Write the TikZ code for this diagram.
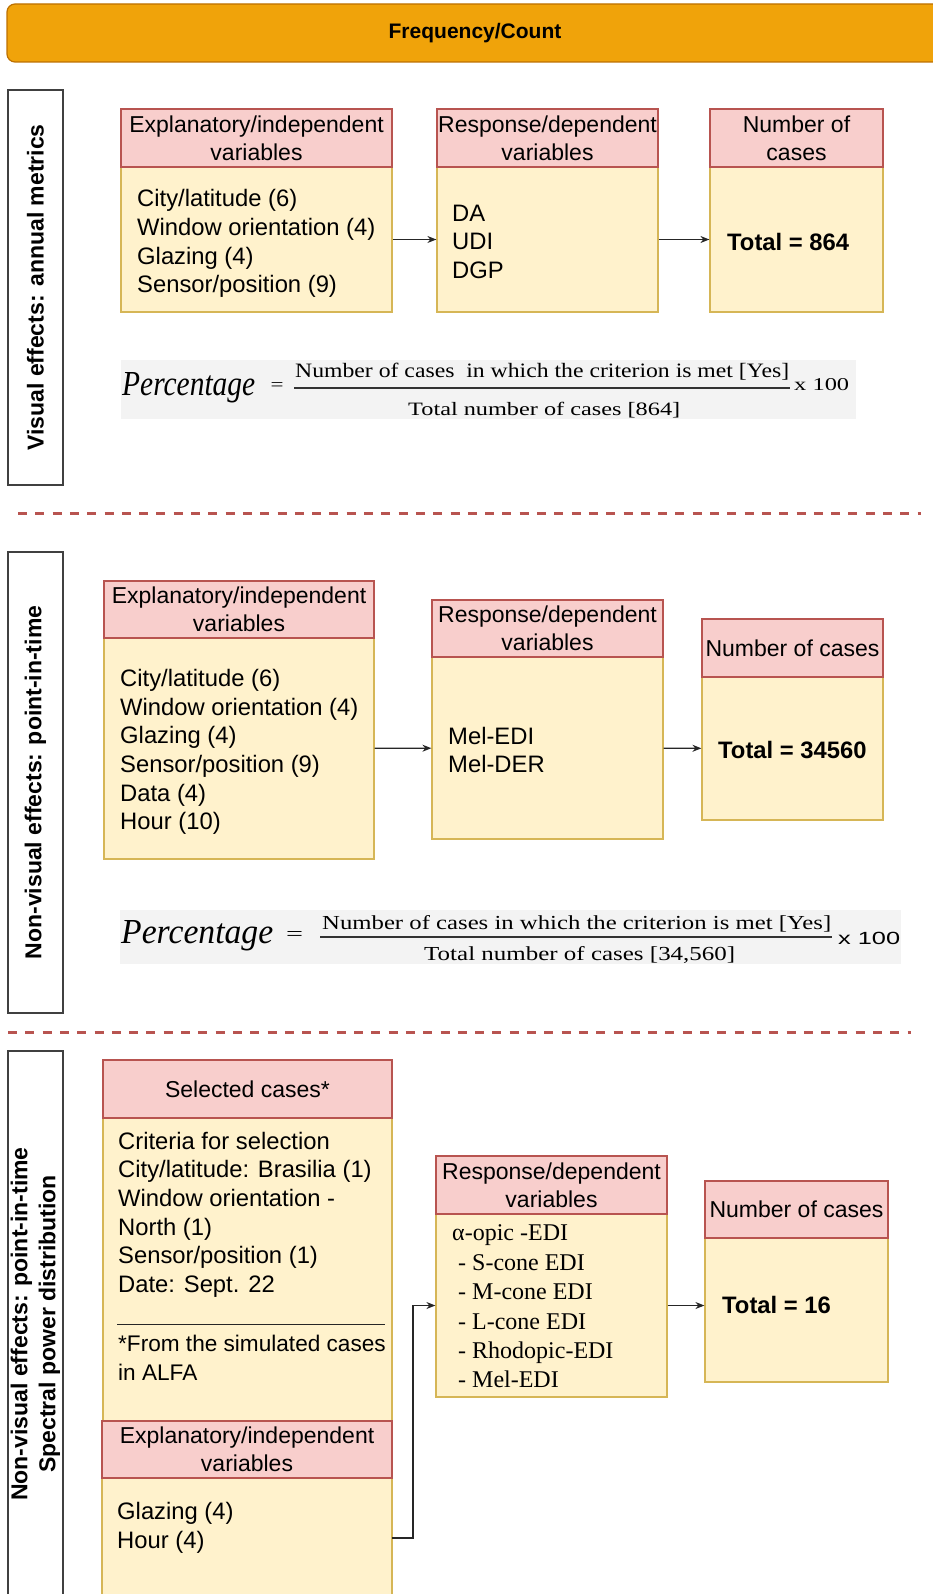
\documentclass[tikz,border=0pt]{standalone}
\usepackage{graphicx}
\usepackage{fontspec}
\setsansfont{Liberation Sans}
\newfontfamily\timesfont{Liberation Serif}
\renewcommand{\familydefault}{\sfdefault}
\usetikzlibrary{arrows.meta}
\definecolor{hdrfill}{HTML}{F8CECC}
\definecolor{hdrdraw}{HTML}{B85450}
\definecolor{bodyfill}{HTML}{FFF2CC}
\definecolor{bodydraw}{HTML}{D6B656}
\definecolor{banfill}{HTML}{F0A30A}
\definecolor{bandraw}{HTML}{BD7000}
\definecolor{sepred}{HTML}{B85450}
\definecolor{formbg}{HTML}{F3F3F3}
\newcommand\fitbox[3]{\resizebox{#1pt}{#2pt}{#3}}
\newcommand\hdrfont{\sffamily\fontsize{23}{28}\selectfont}
\newcommand\bodyfnt{\sffamily\fontsize{23.8}{28.7}\selectfont}
\begin{document}
\begin{tikzpicture}[x=1pt,y=-1pt,
  banner/.style={draw=bandraw, fill=banfill, line width=1.2pt, rounded corners=8pt, inner sep=0pt, font=\sffamily\bfseries\fontsize{21}{24}\selectfont},
  side/.style={draw=black!75, fill=white, line width=1.2pt, inner sep=0pt, rotate=90, align=center, font=\sffamily\bfseries\fontsize{23}{28}\selectfont},
  hdr/.style={draw=hdrdraw, fill=hdrfill, line width=1.2pt, inner sep=0pt, align=center, font=\hdrfont},
  bodybox/.style={draw=bodydraw, fill=bodyfill, line width=1.2pt, inner sep=0pt},
  btxt/.style={anchor=west, inner sep=0pt, align=left, font=\bodyfnt},
  ttxt/.style={anchor=west, inner sep=0pt, align=left, font=\sffamily\bfseries\fontsize{23.8}{28.7}\selectfont},
  arr/.style={draw=black!85, line width=1.2pt, -{Stealth[length=9pt,width=7pt]}},
  sepline/.style={draw=sepred, line width=3pt, dash pattern=on 9pt off 8.3pt},
  fbg/.style={fill=formbg, draw=none, inner sep=0pt},
  ftxt/.style={inner sep=0pt, font=\timesfont\fontsize{20}{20}\selectfont},
  fbar/.style={draw=black!80, line width=1.3pt}
]
\useasboundingbox (0,0) rectangle (933,1594);

% banner
\node[banner, minimum width=936pt, minimum height=58pt] (ban) at (475,33) {Frequency/Count};

% ---------------- section 1
\node[side, minimum width=395pt, minimum height=55pt] (s1) at (35.5,287.5) {Visual effects: annual metrics};

\node[bodybox, minimum width=271pt, minimum height=145pt] (e1b) at (256.5,239.5) {};
\node[hdr, minimum width=271pt, minimum height=58pt] (e1h) at (256.5,138) {Explanatory/independent\\variables};
\node[bodybox, minimum width=221pt, minimum height=145pt] (r1b) at (547.5,239.5) {};
\node[hdr, minimum width=221pt, minimum height=58pt] (r1h) at (547.5,138) {Response/dependent\\variables};
\node[bodybox, minimum width=173pt, minimum height=145pt] (n1b) at (796.5,239.5) {};
\node[hdr, minimum width=173pt, minimum height=58pt] (n1h) at (796.5,138) {Number of\\cases};

\node[btxt] (e1t) at (137,243.5) {City/latitude (6)\\Window orientation (4)\\Glazing (4)\\Sensor/position (9)};
\node[btxt] (r1t) at (452,241.7) {DA\\UDI\\DGP};
\node[ttxt] (n1t) at (727,242) {Total = 864};

\draw[arr] (e1b) -- (r1b);
\draw[arr] (r1b) -- (n1b);

% formula 1
\node[fbg, minimum width=735pt, minimum height=59pt] (f1bg) at (488.5,389.5) {};
\node[ftxt, anchor=base west] (f1p) at (122,395) {\fitbox{133}{23}{\itshape Percentage}};
\node[ftxt] (f1eq) at (277,386) {\fitbox{13}{8}{=}};
\node[ftxt, anchor=base west] (f1n) at (295,377.7) {\fitbox{494}{14.4}{Number of cases\ \ in which the criterion is met [Yes]}};
\draw[fbar] (294,388) -- (790,388);
\node[ftxt, anchor=base west] (f1d) at (408,415) {\fitbox{272}{13.3}{Total number of cases [864]}};
\node[ftxt, anchor=base west] (f1x) at (794,390) {\fitbox{55}{12}{x 100}};

\draw[sepline] (18,513) -- (921,513);

% ---------------- section 2
\node[side, minimum width=461pt, minimum height=55pt] (s2) at (35.5,782.5) {Non-visual effects: point-in-time};

\node[bodybox, minimum width=270pt, minimum height=221pt] (e2b) at (239,748.5) {};
\node[hdr, minimum width=270pt, minimum height=57pt] (e2h) at (239,609.5) {Explanatory/independent\\variables};
\node[bodybox, minimum width=231pt, minimum height=182pt] (r2b) at (547.5,748) {};
\node[hdr, minimum width=231pt, minimum height=57pt] (r2h) at (547.5,628.5) {Response/dependent\\variables};
\node[bodybox, minimum width=181pt, minimum height=143pt] (n2b) at (792.5,748.5) {};
\node[hdr, minimum width=181pt, minimum height=58pt] (n2h) at (792.5,648) {Number of cases};

\node[btxt] (e2t) at (120,752) {City/latitude (6)\\Window orientation (4)\\Glazing (4)\\Sensor/position (9)\\Data (4)\\Hour (10)};
\node[btxt] (r2t) at (448,750) {Mel-EDI\\Mel-DER};
\node[ttxt] (n2t) at (718,750) {Total = 34560};

\draw[arr] (e2b) -- (r2b);
\draw[arr] (r2b) -- (n2b);

% formula 2
\node[fbg, minimum width=781pt, minimum height=54pt] (f2bg) at (510.5,937) {};
\node[ftxt, anchor=base west] (f2p) at (121,943) {\fitbox{152}{23}{\itshape Percentage}};
\node[ftxt] (f2eq) at (294.5,936) {\fitbox{17}{9}{=}};
\node[ftxt, anchor=base west] (f2n) at (322,929) {\fitbox{509}{14}{Number of cases in which the criterion is met [Yes]}};
\draw[fbar] (320,937) -- (832,937);
\node[ftxt, anchor=base west] (f2d) at (424,960.7) {\fitbox{311}{14}{Total number of cases [34,560]}};
\node[ftxt, anchor=base west] (f2x) at (838,944) {\fitbox{62}{12.3}{\sffamily x 100}};

\draw[sepline] (8,1032) -- (911,1032);

% ---------------- section 3
\node[side, minimum width=546pt, minimum height=55pt] (s3) at (35.5,1324) {Non-visual effects: point-in-time\\Spectral power distribution};

\node[bodybox, minimum width=289pt, minimum height=303pt] (sb) at (247.5,1269.5) {};
\node[hdr, minimum width=289pt, minimum height=58pt] (sh) at (247.5,1089) {Selected cases*};
\node[btxt] (st) at (118,1214.6) {Criteria for selection\\City/latitude: Brasilia (1)\\Window orientation -\\North (1)\\Sensor/position (1)\\Date: Sept. 22};
\draw[draw=black!85, line width=1pt] (117,1324.5) -- (385,1324.5);
\node[btxt, font=\sffamily\fontsize{22.6}{29}\selectfont] (ft) at (118,1357.5) {*From the simulated cases\\in ALFA};

\node[bodybox, minimum width=290pt, minimum height=132pt] (eb3) at (247,1544) {};
\node[hdr, minimum width=290pt, minimum height=57pt] (eh3) at (247,1449.5) {Explanatory/independent\\variables};
\node[btxt, font=\sffamily\fontsize{23.8}{28.5}\selectfont] (e3t) at (117,1528) {Glazing (4)\\Hour (4)};

\node[bodybox, minimum width=231pt, minimum height=183pt] (rb3) at (551.5,1305.5) {};
\node[hdr, minimum width=231pt, minimum height=58pt] (rh3) at (551.5,1185) {Response/dependent\\variables};
\node[btxt, font=\timesfont\fontsize{24}{29.4}\selectfont] (r3t) at (452,1306.5) {α-opic -EDI\\\hspace*{6pt}- S-cone EDI\\\hspace*{6pt}- M-cone EDI\\\hspace*{6pt}- L-cone EDI\\\hspace*{6pt}- Rhodopic-EDI\\\hspace*{6pt}- Mel-EDI};

\node[bodybox, minimum width=183pt, minimum height=144pt] (nb3) at (796.5,1310) {};
\node[hdr, minimum width=183pt, minimum height=57pt] (nh3) at (796.5,1209.5) {Number of cases};
\node[ttxt] (n3t) at (722,1305) {Total = 16};

\coordinate (a3s) at (392,1538);
\coordinate (a3b) at (413,1538);
\draw[arr] (a3s) -- (a3b) |- (rb3.west);
\draw[arr] (rb3.east) -- (rb3.east -| nb3.west);
\end{tikzpicture}
\end{document}
